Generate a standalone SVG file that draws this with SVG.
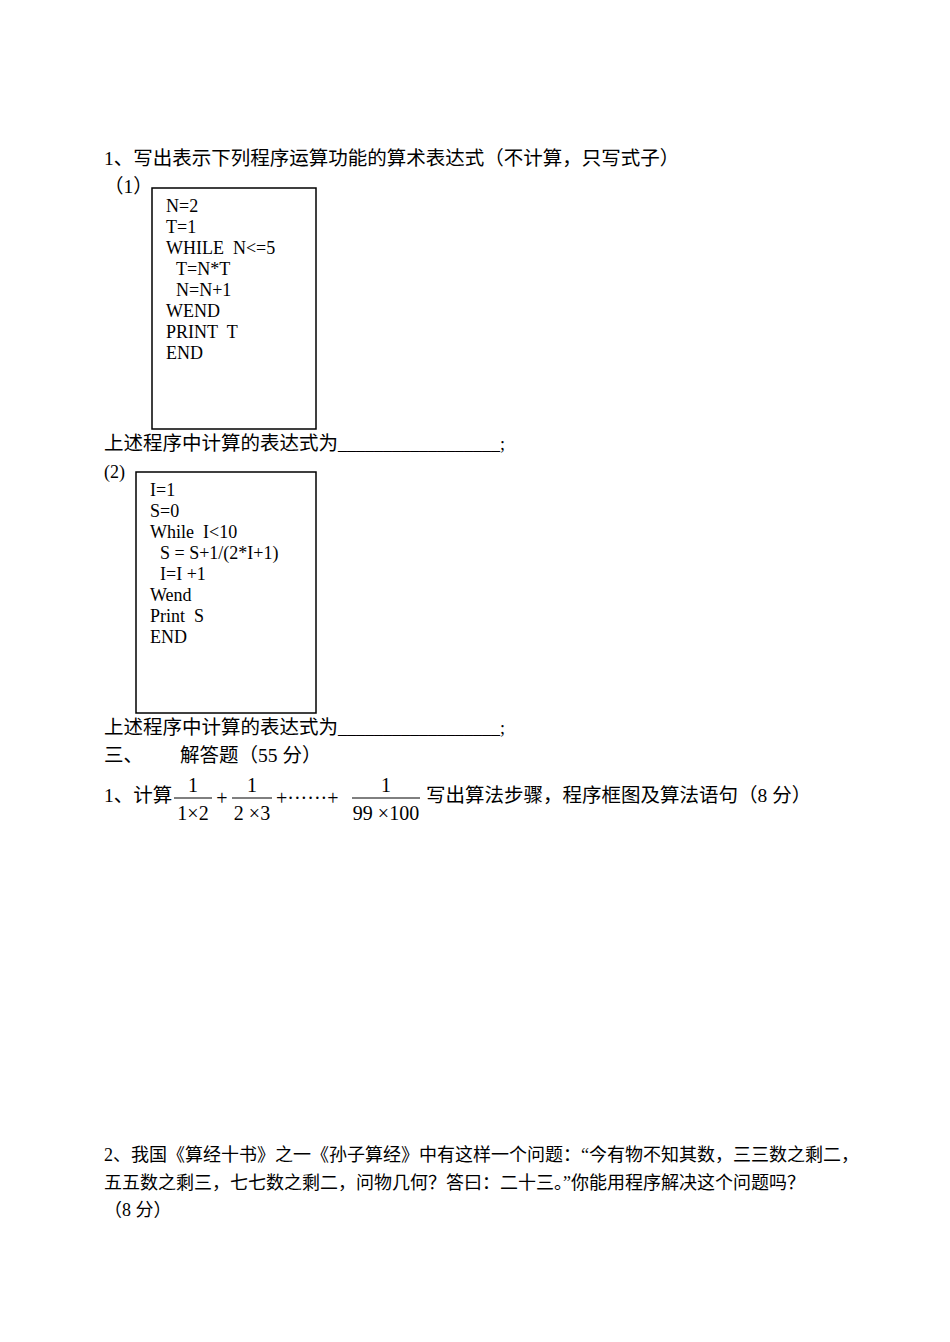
<svg xmlns="http://www.w3.org/2000/svg" width="950" height="1342" viewBox="0 0 950 1342">
<style>
text{font-family:"Liberation Serif","Noto Sans CJK SC",serif;font-size:18px;fill:#000}
.c{font-size:19.5px}
.b{fill:none;stroke:#000;stroke-width:1.5}
text.m{font-size:20px}
</style>
<rect width="950" height="1342" fill="#fff"/>
<text class="c" x="104" y="165">1、写出表示下列程序运算功能的算术表达式（不计算，只写式子）</text>
<text class="c" x="104" y="193">（1）</text>
<g id="box1"><rect class="b" x="152" y="188" width="164" height="241"/>
<text x="166" y="212">N=2</text><text x="166" y="233">T=1</text><text x="166" y="254">WHILE&#160; N&lt;=5</text>
<text x="176" y="275">T=N*T</text><text x="176" y="296">N=N+1</text><text x="166" y="317">WEND</text>
<text x="166" y="338">PRINT&#160; T</text><text x="166" y="359">END</text></g>
<text class="c" x="104" y="450">上述程序中计算的表达式为<tspan font-size="18">__________________;</tspan></text>
<text x="104" y="478">(2)</text>
<g id="box2"><rect class="b" x="136" y="472" width="180" height="241"/>
<text x="150" y="496">I=1</text><text x="150" y="517">S=0</text><text x="150" y="538">While&#160; I&lt;10</text>
<text x="160" y="559">S = S+1/(2*I+1)</text><text x="160" y="580">I=I +1</text><text x="150" y="601">Wend</text>
<text x="150" y="622">Print&#160; S</text><text x="150" y="643">END</text></g>
<text class="c" x="104" y="734">上述程序中计算的表达式为<tspan font-size="18">__________________;</tspan></text>
<text class="c" x="104" y="762">三、</text><text class="c" x="180" y="762">解答题（55 分）</text>
<text class="c" x="104" y="802">1、计算</text>
<g id="formula">
<text x="193" y="792" text-anchor="middle" class="m">1</text>
<line x1="174" y1="798" x2="212" y2="798" stroke="#000"/>
<text x="193" y="820" text-anchor="middle" class="m">1×2</text>
<text x="222" y="805" text-anchor="middle" class="m">+</text>
<text x="252" y="792" text-anchor="middle" class="m">1</text>
<line x1="232" y1="798" x2="272" y2="798" stroke="#000"/>
<text x="252" y="820" text-anchor="middle" class="m">2 ×3</text>
<text x="276" y="805" class="m">+······+</text>
<text x="386" y="792" text-anchor="middle" class="m">1</text>
<line x1="352" y1="798" x2="420" y2="798" stroke="#000"/>
<text x="386" y="820" text-anchor="middle" class="m">99 ×100</text>
</g>
<text class="c" x="426" y="802">写出算法步骤，程序框图及算法语句（8 分）</text>
<text x="104" y="1161">2、我国《算经十书》之一《孙子算经》中有这样一个问题：“今有物不知其数，三三数之剩二，</text>
<text x="104" y="1189">五五数之剩三，七七数之剩二，问物几何？答曰：二十三。”你能用程序解决这个问题吗？</text>
<text x="104" y="1216">（8 分）</text>
</svg>
